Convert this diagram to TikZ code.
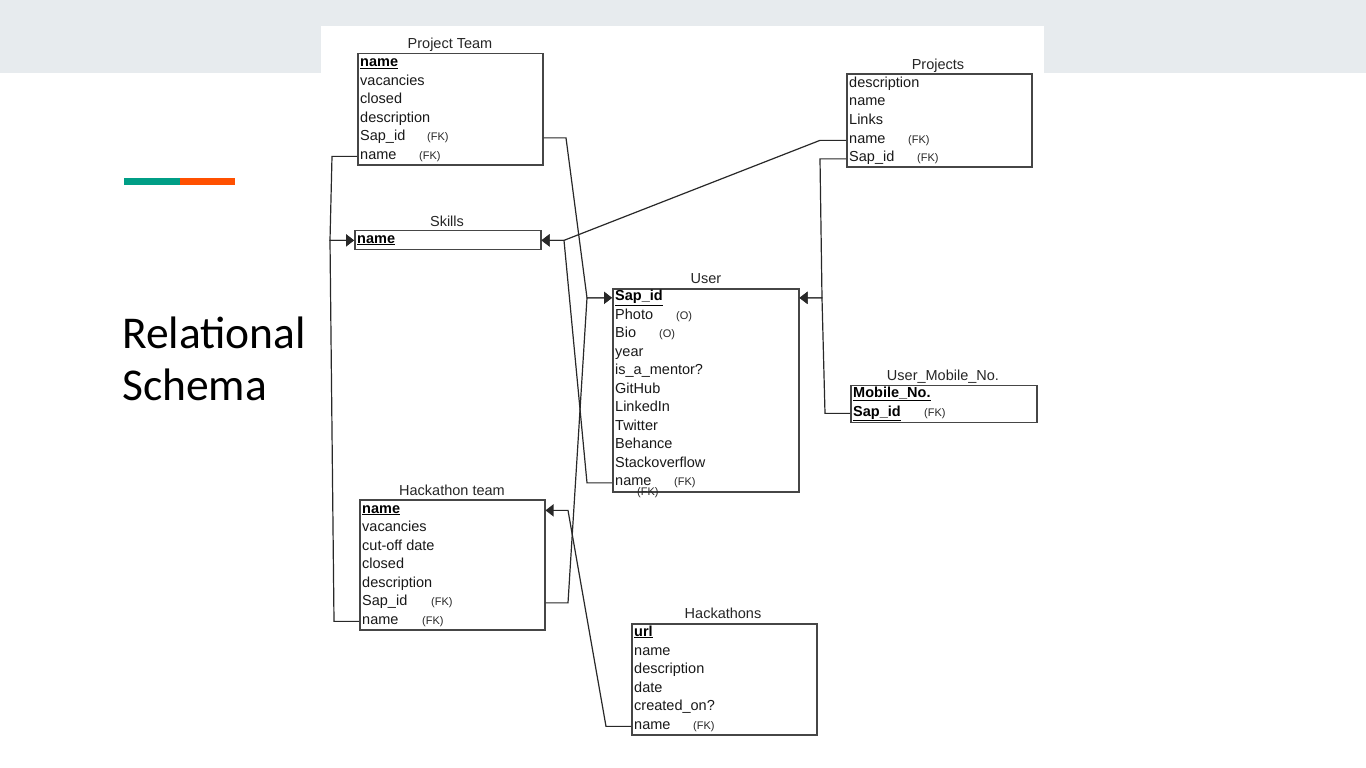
\documentclass[tikz,border=0pt]{standalone}
\usepackage{fontspec}
\setmainfont{Liberation Sans}
\newfontfamily\slidefont{Carlito}
\usetikzlibrary{arrows.meta}
\definecolor{bandgray}{RGB}{231,235,238}
\definecolor{tealbar}{RGB}{0,158,134}
\definecolor{orangebar}{RGB}{255,80,0}
\definecolor{boxline}{RGB}{70,70,70}
\definecolor{connline}{RGB}{40,40,40}
\tikzset{
  tbl/.style={draw=boxline, line width=1.5pt, anchor=north west, inner sep=0pt, fill=none},
  ttl/.style={font=\fontsize{14.5}{17}\selectfont, anchor=base, inner sep=0pt, text=black!85},
  row/.style={font=\fontsize{14.5}{17}\selectfont, anchor=base west, inner sep=0pt, text=black!90},
  keyrow/.style={font=\fontsize{14.5}{17}\selectfont\bfseries, anchor=base west, inner sep=0pt, text=black},
  fk/.style={font=\fontsize{11}{13}\selectfont, anchor=base west, inner sep=0pt, text=black!85},
  conn/.style={draw=connline, line width=1.2pt, line join=miter},
  arr/.style={-{Triangle[length=8pt,width=12pt]}},
  slide/.style={font=\slidefont\fontsize{45.5}{52}\selectfont, anchor=base west, inner sep=0pt, text=black}
}
\begin{document}
\begin{tikzpicture}[x=1pt,y=-1pt]
\useasboundingbox (0,0) rectangle (1366,768);
% background
\fill[white] (0,0) rectangle (1366,768);
\fill[bandgray] (0,0) rectangle (1366,72.7);
\fill[white] (321,25.7) rectangle (1044,72.7);
\fill[tealbar] (124,177.7) rectangle (180,184.7);
\fill[orangebar] (180,177.7) rectangle (235,184.7);
\node[slide] (t1) at (122,348.3) {Relational};
\node[slide] (t2) at (122,400.3) {Schema};

% ---------- Project Team ----------
\node[tbl, minimum width=185pt, minimum height=111pt] (pt) at (357,53) {};
\node[ttl] (pt-t) at (450,49) {Project Team};
\node[keyrow] (pt-r1) at (360,66.5) {\underline{name}};
\node[row] (pt-r2) at (360,85) {vacancies};
\node[row] (pt-r3) at (360,103.5) {closed};
\node[row] (pt-r4) at (360,122) {description};
\node[row] (pt-r5) at (360,140.5) {Sap\_id};
\node[fk]  (pt-f5) at (427,140.5) {(FK)};
\node[row] (pt-r6) at (360,159) {name};
\node[fk]  (pt-f6) at (419,159) {(FK)};

% ---------- Skills ----------
\node[tbl, minimum width=186pt, minimum height=19pt] (sk) at (354,229.5) {};
\node[ttl] (sk-t) at (447,226) {Skills};
\node[keyrow] (sk-r1) at (357,243) {\underline{name}};

% ---------- Projects ----------
\node[tbl, minimum width=185pt, minimum height=92.5pt] (pj) at (846,73.5) {};
\node[ttl] (pj-t) at (938,70) {Projects};
\node[row] (pj-r1) at (849,87.5) {description};
\node[row] (pj-r2) at (849,106) {name};
\node[row] (pj-r3) at (849,124.5) {Links};
\node[row] (pj-r4) at (849,143) {name};
\node[fk]  (pj-f4) at (908,143) {(FK)};
\node[row] (pj-r5) at (849,161.5) {Sap\_id};
\node[fk]  (pj-f5) at (917,161.5) {(FK)};

% ---------- User ----------
\node[tbl, minimum width=186pt, minimum height=203pt] (us) at (612,288) {};
\node[ttl] (us-t) at (706,283.5) {User};
\node[keyrow] (us-r1) at (615,300.5) {\underline{Sap\_id}};
\node[row] (us-r2) at (615,319) {Photo};
\node[fk]  (us-f2) at (676,319) {(O)};
\node[row] (us-r3) at (615,337.5) {Bio};
\node[fk]  (us-f3) at (659,337.5) {(O)};
\node[row] (us-r4) at (615,356) {year};
\node[row] (us-r5) at (615,374.5) {is\_a\_mentor?};
\node[row] (us-r6) at (615,393) {GitHub};
\node[row] (us-r7) at (615,411.5) {LinkedIn};
\node[row] (us-r8) at (615,430) {Twitter};
\node[row] (us-r9) at (615,448.5) {Behance};
\node[row] (us-r10) at (615,467) {Stackoverflow};
\node[row] (us-r11) at (615,485.5) {name};
\node[fk]  (us-f11) at (674,485.5) {(FK)};
\node[fk]  (us-fx) at (637,495.5) {(FK)};

% ---------- User_Mobile_No. ----------
\node[tbl, minimum width=186pt, minimum height=37pt] (um) at (850,384.5) {};
\node[ttl] (um-t) at (943,380) {User\_Mobile\_No.};
\node[keyrow] (um-r1) at (853,397.5) {\underline{Mobile\_No.}};
\node[keyrow] (um-r2) at (853,416) {\underline{Sap\_id}};
\node[fk]  (um-f2) at (924,416) {(FK)};

% ---------- Hackathon team ----------
\node[tbl, minimum width=185pt, minimum height=130pt] (ht) at (359,499) {};
\node[ttl] (ht-t) at (452,495.5) {Hackathon team};
\node[keyrow] (ht-r1) at (362,513) {\underline{name}};
\node[row] (ht-r2) at (362,531.5) {vacancies};
\node[row] (ht-r3) at (362,550) {cut-off date};
\node[row] (ht-r4) at (362,568.5) {closed};
\node[row] (ht-r5) at (362,587) {description};
\node[row] (ht-r6) at (362,605.5) {Sap\_id};
\node[fk]  (ht-f6) at (431,605.5) {(FK)};
\node[row] (ht-r7) at (362,624) {name};
\node[fk]  (ht-f7) at (422,624) {(FK)};

% ---------- Hackathons ----------
\node[tbl, minimum width=185pt, minimum height=111pt] (hk) at (631,623) {};
\node[ttl] (hk-t) at (723,618.5) {Hackathons};
\node[keyrow] (hk-r1) at (634,636) {\underline{url}};
\node[row] (hk-r2) at (634,655) {name};
\node[row] (hk-r3) at (634,673.5) {description};
\node[row] (hk-r4) at (634,692) {date};
\node[row] (hk-r5) at (634,710.5) {created\_on?};
\node[row] (hk-r6) at (634,729) {name};
\node[fk]  (hk-f6) at (693,729) {(FK)};

% ---------- bend points ----------
\coordinate (skL) at (330,0 |- sk-r1.mid);
\coordinate (skR) at (564,0 |- sk-r1.mid);
\coordinate (usL) at (587,0 |- us-r1.mid);
\coordinate (usR) at (822,0 |- us-r1.mid);
\coordinate (htR) at (568,0 |- ht-r1.mid);

% ---------- connectors ----------
% Project Team.name -> Skills
\draw[conn,arr] (pt.west |- pt-r6.mid) -- (332,0 |- pt-r6.mid) -- (skL) -- (sk.west |- sk-r1.mid);
% Hackathon team.name -> Skills
\draw[conn,arr] (ht.west |- ht-r7.mid) -- (334,0 |- ht-r7.mid) -- (skL) -- (sk.west |- sk-r1.mid);
% Projects.name -> Skills
\draw[conn,arr] (pj.west |- pj-r4.mid) -- (820,0 |- pj-r4.mid) -- (skR) -- (sk.east |- sk-r1.mid);
% User.name -> Skills
\draw[conn,arr] (us.west |- us-r11.mid) -- (587,0 |- us-r11.mid) -- (skR) -- (sk.east |- sk-r1.mid);
% Project Team.Sap_id -> User
\draw[conn,arr] (pt.east |- pt-r5.mid) -- (566,0 |- pt-r5.mid) -- (usL) -- (us.west |- us-r1.mid);
% Hackathon team.Sap_id -> User
\draw[conn,arr] (ht.east |- ht-r6.mid) -- (568,0 |- ht-r6.mid) -- (usL) -- (us.west |- us-r1.mid);
% Projects.Sap_id -> User
\draw[conn,arr] (pj.west |- pj-r5.mid) -- (820,0 |- pj-r5.mid) -- (usR) -- (us.east |- us-r1.mid);
% User_Mobile_No.Sap_id -> User
\draw[conn,arr] (um.west |- um-r2.mid) -- (825,0 |- um-r2.mid) -- (usR) -- (us.east |- us-r1.mid);
% Hackathons.name -> Hackathon team.name
\draw[conn,arr] (hk.west |- hk-r6.mid) -- (606,0 |- hk-r6.mid) -- (htR) -- (ht.east |- ht-r1.mid);
\end{tikzpicture}
\end{document}
